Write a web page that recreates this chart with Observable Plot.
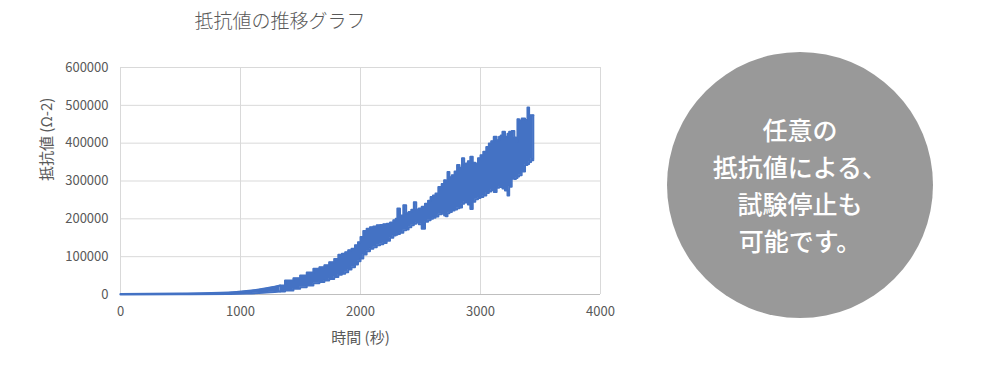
<!DOCTYPE html>
<html><head><meta charset="utf-8">
<script src="https://cdn.jsdelivr.net/npm/d3@7"></script>
<script src="https://cdn.jsdelivr.net/npm/@observablehq/plot@0.6"></script>
<style>
body{margin:0;background:#fff;}
#wrap{position:relative;width:1000px;height:370px;font-family:"Noto Sans CJK JP","Noto Sans",sans-serif;overflow:hidden;}
#title{position:absolute;left:0;width:560px;top:7px;text-align:center;font-size:19px;line-height:26px;color:#595959;font-weight:300;}
#badge{position:absolute;left:667px;top:52px;width:266px;height:266px;border-radius:50%;background:#999999;color:#fff;display:flex;flex-direction:column;align-items:center;justify-content:center;text-align:center;font-size:25px;font-weight:500;line-height:37px;}
#chart{position:absolute;left:0;top:0;}
</style>
</head><body>
<div id="wrap">
  <div id="chart"></div>
  <div id="title"></div>
  <div id="badge"></div>
</div>
<script>
const titleText = "抵抗値の推移グラフ";
const xLabel = "時間 (秒)";
const yLabel = "抵抗値 (Ω-2)";
const badgeLines = ["任意の", "抵抗値による、", "試験停止も", "可能です。"];
const xTicks = [0, 1000, 2000, 3000, 4000];
const yTicks = [0, 100000, 200000, 300000, 400000, 500000, 600000];

// time (s), lower and upper envelope of the oscillating resistance trace
const times = [0, 500, 900, 1050, 1190, 1330, 1412, 1470, 1524, 1580, 1635, 1680, 1718, 1760, 1802, 1829, 1860, 1885, 1910, 1940, 1968, 1990, 2010, 2037, 2065, 2093, 2121, 2150, 2176, 2204, 2232, 2260, 2287, 2300, 2315, 2343, 2371, 2390, 2412, 2435, 2454, 2475, 2496, 2524, 2551, 2575, 2593, 2615, 2635, 2663, 2690, 2704, 2718, 2732, 2750, 2773, 2795, 2815, 2835, 2857, 2871, 2885, 2905, 2926, 2945, 2968, 2990, 3010, 3037, 3060, 3079, 3100, 3121, 3148, 3162, 3176, 3190, 3218, 3232, 3246, 3274, 3290, 3301, 3315, 3329, 3357, 3385, 3398, 3412, 3432, 3440];
const lows  = [0, 500, 1500, 2500, 4500, 8000, 10600, 15000, 19000, 24000, 30000, 33000, 37000, 41000, 46000, 52000, 55000, 59000, 66000, 72000, 79000, 88000, 95000, 106000, 114000, 121000, 125000, 130000, 133000, 136000, 142000, 150000, 156000, 158000, 160000, 163000, 170000, 172000, 178000, 183000, 187000, 190000, 186000, 174000, 192000, 196000, 200000, 203000, 206000, 212000, 214000, 209000, 207000, 215000, 218000, 222000, 225000, 228000, 230000, 240000, 245000, 243000, 238000, 226000, 245000, 252000, 255000, 258000, 262000, 268000, 272000, 276000, 271000, 282000, 284000, 284000, 280000, 275000, 262000, 285000, 306000, 305000, 308000, 312000, 315000, 325000, 342000, 345000, 350000, 358000, 355000];
const highs = [1500, 2500, 5000, 9000, 15000, 24000, 37000, 43000, 50000, 58000, 68000, 72000, 77000, 85000, 94000, 105000, 108000, 112000, 117000, 121000, 130000, 138000, 152000, 168000, 174000, 178000, 180000, 183000, 184000, 186000, 187000, 190000, 196000, 200000, 227000, 209000, 236000, 215000, 218000, 224000, 244000, 225000, 227000, 232000, 240000, 248000, 258000, 262000, 267000, 284000, 292000, 302000, 300000, 324000, 310000, 315000, 325000, 342000, 335000, 360000, 345000, 346000, 352000, 364000, 348000, 346000, 360000, 368000, 377000, 390000, 399000, 405000, 417000, 408000, 417000, 420000, 430000, 417000, 425000, 430000, 432000, 415000, 403000, 463000, 460000, 465000, 461000, 494000, 474000, 474000, 474000];

const rows = times.map((t, i) => ({t, lo: lows[i], hi: highs[i]}));
const early = rows.filter(d => d.t <= 1330);   // smooth, quiet part of the trace
const noisy = rows.filter(d => d.t >= 1330);   // oscillating part of the trace
const last = rows[rows.length - 1];
const blue = "#4472C4";
const font = '"Noto Sans CJK JP","Noto Sans",sans-serif';

const chart = Plot.plot({
  width: 1000,
  height: 370,
  marginLeft: 120,
  marginRight: 400,
  marginTop: 67,
  marginBottom: 76,
  style: {fontFamily: font, fontSize: "13px", color: "#595959", background: "transparent"},
  x: {domain: [0, 4000]},
  y: {domain: [0, 600000]},
  marks: [
    Plot.ruleY(yTicks.slice(1), {stroke: "#d9d9d9", strokeWidth: 1}),
    Plot.ruleX(xTicks.slice(1), {stroke: "#d9d9d9", strokeWidth: 1}),
    Plot.ruleY([0], {stroke: "#bfbfbf", strokeWidth: 1}),
    Plot.ruleX([0], {stroke: "#d9d9d9", strokeWidth: 1}),
    Plot.areaY(early, {x: "t", y1: "lo", y2: "hi", fill: blue, curve: "monotone-x"}),
    Plot.line(early, {x: "t", y: "hi", stroke: blue, strokeWidth: 2, curve: "monotone-x"}),
    Plot.line(early, {x: "t", y: "lo", stroke: blue, strokeWidth: 2, curve: "monotone-x"}),
    Plot.areaY(noisy, {x: "t", y1: "lo", y2: "hi", fill: blue, curve: "step"}),
    Plot.line(noisy, {x: "t", y: "hi", stroke: blue, strokeWidth: 2, curve: "step"}),
    Plot.line(noisy, {x: "t", y: "lo", stroke: blue, strokeWidth: 2, curve: "step"}),
    Plot.ruleX([last], {x: "t", y1: "lo", y2: "hi", stroke: blue, strokeWidth: 2}),
    Plot.axisY({ticks: yTicks, tickSize: 0, tickPadding: 12, tickFormat: d => String(d), label: null}),
    Plot.axisX({ticks: xTicks, tickSize: 0, tickPadding: 12, tickFormat: d => String(d), label: null}),
    Plot.text([yLabel], {frameAnchor: "left", dx: -73, rotate: -90, fontSize: 15, lineAnchor: "middle", fill: "#595959"}),
    Plot.text([xLabel], {frameAnchor: "bottom", dy: 44, fontSize: 15, lineAnchor: "middle", fill: "#595959"})
  ]
});
document.getElementById("chart").appendChild(chart);
document.getElementById("title").textContent = titleText;
const badge = document.getElementById("badge");
badgeLines.forEach(s => { const d = document.createElement("div"); d.textContent = s; badge.appendChild(d); });
</script>
</body></html>
